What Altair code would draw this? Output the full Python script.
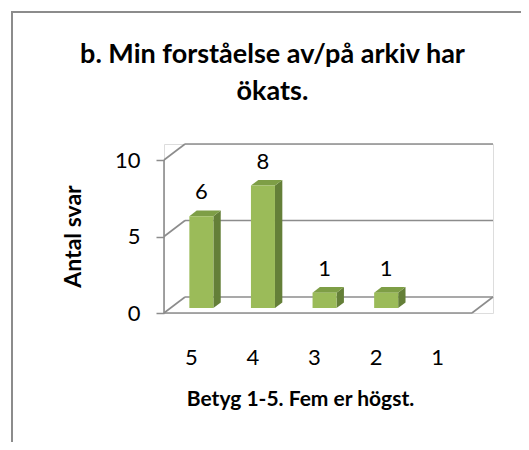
import json
import altair as alt
import pandas as pd

# ---- data ----
categories = ["5", "4", "3", "2", "1"]
values = [6, 8, 1, 1, 0]
y_ticks = [0, 5, 10]
title_lines = ["b. Min forståelse av/på arkiv har", "ökats."]
y_title = "Antal svar"
x_title = "Betyg 1-5. Fem er högst."

# ---- 3D geometry (in data units) ----
DX = 0.341      # depth of the box along x (category units)
DY = 1.046      # depth of the box along y (value units)
F0 = 0.3125     # depth fraction where bar front faces sit
FD = 0.35       # bar depth fraction
BW = 0.39       # bar width (category units)
LBL_SHIFT = 0.065  # category labels sit slightly left of slot centre
N = len(categories)
FONT = "Lato"
GRAY = "#8c8c8c"

W, H = 329, 169

x_scale = alt.Scale(domain=[0, N + DX], nice=False, zero=False)
y_scale = alt.Scale(domain=[0, 10 + DY], nice=False, zero=False)

rows_front, rows_side, rows_top = [], [], []
for i, (c, v) in enumerate(zip(categories, values)):
    if v <= 0:
        continue
    x0 = i + 0.5 - BW / 2 + F0 * DX
    x1 = x0 + BW
    yb = F0 * DY
    yt = v + F0 * DY
    rows_front.append(dict(cat=c, value=v, x0=x0, x1=x1, xc=(x0 + x1) / 2, yb=yb, yt=yt))
    rows_side.append(dict(cat=c, x=x1, yb=yb, yt=yt))
    rows_side.append(dict(cat=c, x=x1 + FD * DX, yb=yb + FD * DY, yt=yt + FD * DY))
    rows_top.append(dict(cat=c, y=yt, xa=x0, xb=x1))
    rows_top.append(dict(cat=c, y=yt + FD * DY, xa=x0 + FD * DX, xb=x1 + FD * DX))

front_df = pd.DataFrame(rows_front)
side_df = pd.DataFrame(rows_side)
top_df = pd.DataFrame(rows_top)

# frame lines of the 3D box
segs = []
for t in y_ticks:
    segs.append(dict(x=DX, x2=N + DX, y=t + DY, y2=t + DY))   # back wall gridline
    segs.append(dict(x=0, x2=DX, y=t, y2=t + DY))              # left diagonal
segs.append(dict(x=0, x2=N, y=0, y2=0))                        # floor front edge
segs.append(dict(x=N, x2=N + DX, y=0, y2=DY))                  # floor right edge
segs.append(dict(x=0, x2=0, y=0, y2=max(y_ticks)))             # front value axis
seg_df = pd.DataFrame(segs)

label_expr = json.dumps(categories) + "[floor(datum.value)]"

x_axis = alt.Axis(
    values=[i + 0.5 - LBL_SHIFT for i in range(N)], labelExpr=label_expr,
    domain=False, ticks=False, tickSize=0, grid=False,
    labelFont=FONT, labelFontSize=22, labelColor="#000", labelPadding=44,
    labelBaseline="middle", labelAngle=0,
    title=x_title, titleFont=FONT, titleFontSize=21, titleFontWeight="bold",
    titleColor="#000", titleX=136, titleY=86, titleAlign="center",
    titleBaseline="middle", titleAngle=0,
)
y_axis = alt.Axis(
    values=y_ticks, domain=False, grid=False, tickSize=8, tickColor=GRAY,
    tickWidth=1.5, labelFont=FONT, labelFontSize=22, labelColor="#000",
    labelPadding=16, labelBaseline="middle",
    title=y_title, titleFont=FONT, titleFontSize=23, titleFontWeight="bold",
    titleColor="#000", titleX=-91, titleY=92, titleAlign="center",
    titleBaseline="middle", titleAngle=-90,
)

lines = alt.Chart(seg_df).mark_rule(color=GRAY, strokeWidth=1.6).encode(
    x=alt.X("x:Q", scale=x_scale, axis=x_axis),
    x2="x2:Q",
    y=alt.Y("y:Q", scale=y_scale, axis=y_axis),
    y2="y2:Q",
)

side = alt.Chart(side_df).mark_area(color="#647f38", interpolate="linear").encode(
    x=alt.X("x:Q", scale=x_scale),
    y=alt.Y("yt:Q", scale=y_scale),
    y2="yb:Q",
    detail="cat:N",
)

top = alt.Chart(top_df).mark_area(color="#7e9e46", orient="horizontal", interpolate="linear").encode(
    y=alt.Y("y:Q", scale=y_scale),
    x=alt.X("xa:Q", scale=x_scale),
    x2="xb:Q",
    detail="cat:N",
)

front = alt.Chart(front_df).mark_rect(color="#9bbb59").encode(
    x=alt.X("x0:Q", scale=x_scale),
    x2="x1:Q",
    y=alt.Y("yb:Q", scale=y_scale),
    y2="yt:Q",
)

value_labels = alt.Chart(front_df).mark_text(
    font=FONT, fontSize=22, color="#000", baseline="alphabetic", dy=-17
).encode(
    x=alt.X("xc:Q", scale=x_scale),
    y=alt.Y("yt:Q", scale=y_scale),
    text="value:Q",
)

frame = alt.Chart(pd.DataFrame({"a": [0]})).mark_rect(
    fill=None, stroke=GRAY, strokeWidth=2
).encode(
    x=alt.value(-152), x2=alt.value(380), y=alt.value(-132), y2=alt.value(330)
)

chart = alt.layer(frame, lines, side, top, front, value_labels).properties(
    width=W, height=H,
    title=alt.TitleParams(
        text=title_lines, font=FONT, fontSize=27, fontWeight="bold", color="#000",
        anchor="middle", frame="group", baseline="alphabetic", offset=0,
        lineHeight=37, dx=-56, dy=116,
    ),
    autosize=alt.AutoSizeParams(type="none"),
    padding={"left": 156, "top": 136, "right": 28, "bottom": 129},
).configure_view(stroke=None).configure(background="white")

chart.save("out.html", embed_options={"renderer": "svg", "actions": False})
